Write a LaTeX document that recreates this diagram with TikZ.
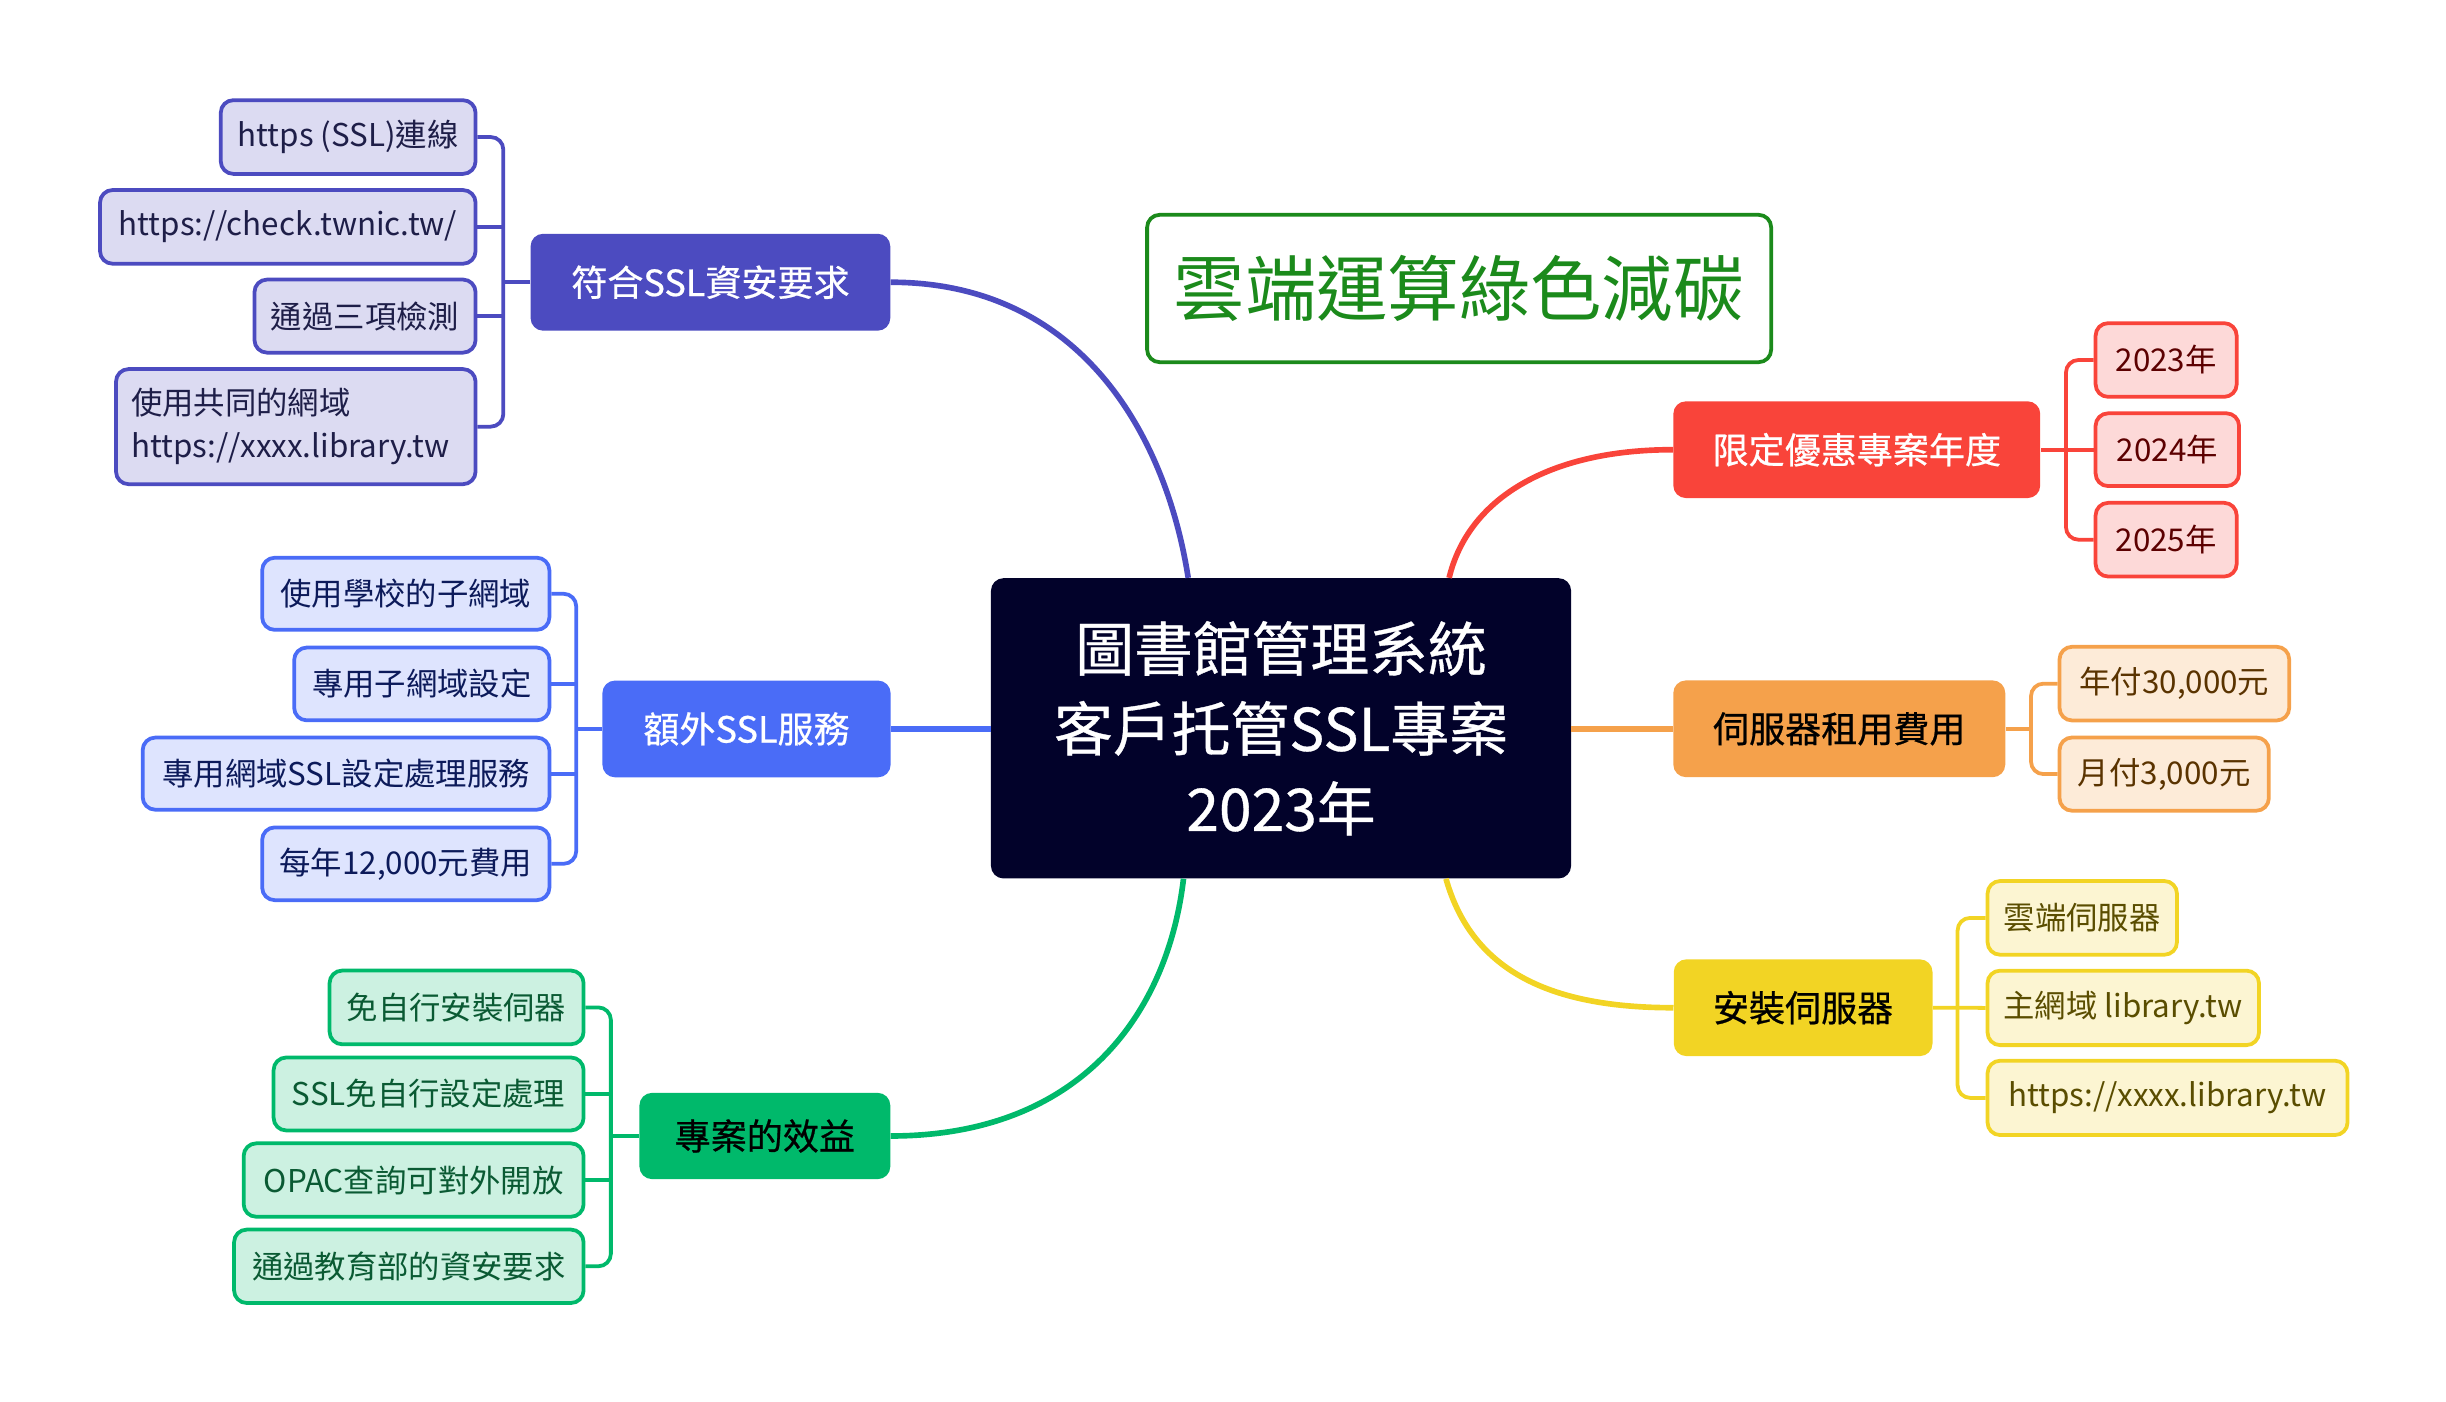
\documentclass[tikz,border=0pt]{standalone}
\usepackage{fontspec}
\setmainfont{Noto Sans CJK TC}
\newfontfamily\cjkmid[FakeBold=0.6]{Noto Sans CJK TC}
\usetikzlibrary{calc}
\definecolor{cnavy}{HTML}{02022A}
\definecolor{ttlgreen}{HTML}{1B8A1B}
\definecolor{purp}{HTML}{4C4BC0}\definecolor{purpL}{HTML}{DCDBF2}\definecolor{purpT}{HTML}{1E1E48}
\definecolor{blu}{HTML}{4A6CF7}\definecolor{bluL}{HTML}{DEE4FE}\definecolor{bluT}{HTML}{0C1A5A}
\definecolor{grn}{HTML}{00B96B}\definecolor{grnL}{HTML}{CCF1E1}\definecolor{grnT}{HTML}{0A5A33}
\definecolor{red1}{HTML}{F9443A}\definecolor{redL}{HTML}{FDD9D8}\definecolor{redT}{HTML}{5C0000}
\definecolor{org}{HTML}{F5A14B}\definecolor{orgL}{HTML}{FDEBD8}\definecolor{orgT}{HTML}{5A3300}
\definecolor{yel}{HTML}{F2D424}\definecolor{yelL}{HTML}{FCF5D2}\definecolor{yelT}{HTML}{5A4D00}
\tikzset{
  childbox/.style={draw, line width=2.4pt, rounded corners=8pt, inner sep=0pt,
    font=\fontsize{20}{27.5}\selectfont, align=center},
  branchbox/.style={rounded corners=8pt, inner sep=0pt, font=\cjkmid\fontsize{23}{28}\selectfont},
  cpur/.style={childbox, draw=purp, fill=purpL, text=purpT},
  cblu/.style={childbox, draw=blu, fill=bluL, text=bluT},
  cgrn/.style={childbox, draw=grn, fill=grnL, text=grnT},
  cred/.style={childbox, draw=red1, fill=redL, text=redT},
  corg/.style={childbox, draw=org, fill=orgL, text=orgT},
  cyel/.style={childbox, draw=yel, fill=yelL, text=yelT},
  mainlink/.style={line width=3.6pt},
  bracketlink/.style={line width=2.4pt, rounded corners=8pt},
}
\begin{document}
\begin{tikzpicture}[x=1pt, y=-1pt]
\useasboundingbox (0,0) rectangle (1560,894);
% central
\node[fill=cnavy, rounded corners=8pt, minimum width=370pt, minimum height=191.5pt, inner sep=0pt,
  text=white, align=center, font=\cjkmid\fontsize{37.5}{51}\selectfont] (C) at (817,464.5)
  {圖書館管理系統\\客戶托管SSL專案\\2023年};
% title
\node[draw=ttlgreen, line width=2.4pt, rounded corners=8pt, fill=white, text=ttlgreen,
  minimum width=398pt, minimum height=94pt, inner sep=0pt, font=\fontsize{45.5}{50}\selectfont] (T) at (930.6,184)
  {雲端運算綠色減碳};
% ---- purple branch
\node[branchbox, fill=purp, text=white, minimum width=229.4pt, minimum height=61.8pt, anchor=east] (P) at (568,180) {符合SSL資安要求};
\node[cpur, minimum width=162.5pt, minimum height=47pt, anchor=east] (p1) at (304.5,87.4) {https (SSL)連線};
\node[cpur, minimum width=239.5pt, minimum height=47pt, anchor=east] (p2) at (304.5,144.7) {https://check.twnic.tw/};
\node[cpur, minimum width=141pt, minimum height=46.6pt, anchor=east] (p3) at (304.5,201.6) {通過三項檢測};
\node[cpur, minimum width=229.3pt, minimum height=73.4pt, anchor=east, align=left, text width=210pt] (p4) at (304.5,272.1) {使用共同的網域\\https://xxxx.library.tw};
\coordinate (pb) at (321,0);
\draw[purp, bracketlink] (p1.east) -- (p1.east -| pb) -- (p4.east -| pb) -- (p4.east);
\draw[purp, line width=2.4pt] (p2.east) -- (p2.east -| pb);
\draw[purp, line width=2.4pt] (p3.east) -- (p3.east -| pb);
\draw[purp, line width=2.4pt] (P.west) -- (P.west -| pb);
\coordinate (cP) at ($(C.north west)+(126,0)$);
\draw[purp, mainlink] (P.east) .. controls ($(P.east)+(122,0)$) and ($(cP)+(-14,-90)$) .. (cP);
% ---- blue branch
\node[branchbox, fill=blu, text=white, minimum width=183.8pt, minimum height=61.7pt, anchor=east] (B) at (568.2,464.9) {額外SSL服務};
\node[cblu, minimum width=183.2pt, minimum height=46pt, anchor=east] (b1) at (351.6,378.7) {使用學校的子網域};
\node[cblu, minimum width=162.8pt, minimum height=46.4pt, anchor=east] (b2) at (351.6,436.2) {專用子網域設定};
\node[cblu, minimum width=259.4pt, minimum height=46pt, anchor=east] (b3) at (351.6,493.4) {專用網域SSL設定處理服務};
\node[cblu, minimum width=183.2pt, minimum height=46.4pt, anchor=east] (b4) at (351.6,550.9) {每年12,000元費用};
\coordinate (bb) at (367.5,0);
\draw[blu, bracketlink] (b1.east) -- (b1.east -| bb) -- (b4.east -| bb) -- (b4.east);
\draw[blu, line width=2.4pt] (b2.east) -- (b2.east -| bb);
\draw[blu, line width=2.4pt] (b3.east) -- (b3.east -| bb);
\draw[blu, line width=2.4pt] (B.west) -- (B.west -| bb);
\draw[blu, mainlink] (B.east) -- (B.east -| C.west);
% ---- green branch
\node[branchbox, fill=grn, text=black, minimum width=160pt, minimum height=55pt, anchor=east] (G) at (568,724.5) {專案的效益};
\node[cgrn, minimum width=162pt, minimum height=47pt, anchor=east] (g1) at (373.4,642.5) {免自行安裝伺器};
\node[cgrn, minimum width=197.7pt, minimum height=46.5pt, anchor=east] (g2) at (373.4,697.7) {SSL免自行設定處理};
\node[cgrn, minimum width=216.8pt, minimum height=46.8pt, anchor=east] (g3) at (373.4,752.6) {OPAC查詢可對外開放};
\node[cgrn, minimum width=222.9pt, minimum height=46.8pt, anchor=east] (g4) at (373.4,807.6) {通過教育部的資安要求};
\coordinate (gb) at (389.6,0);
\draw[grn, bracketlink] (g1.east) -- (g1.east -| gb) -- (g4.east -| gb) -- (g4.east);
\draw[grn, line width=2.4pt] (g2.east) -- (g2.east -| gb);
\draw[grn, line width=2.4pt] (g3.east) -- (g3.east -| gb);
\draw[grn, line width=2.4pt] (G.west) -- (G.west -| gb);
\coordinate (cG) at ($(C.south west)+(123,0)$);
\draw[grn, mainlink] (G.east) .. controls ($(G.east)+(122,0)$) and ($(cG)+(-10,85)$) .. (cG);
% ---- red branch
\node[branchbox, fill=red1, text=white, minimum width=234pt, minimum height=61.7pt, anchor=west] (R) at (1067,286.8) {限定優惠專案年度};
\node[cred, minimum width=90pt, minimum height=47pt, anchor=west] (r1) at (1335.3,229.6) {2023年};
\node[cred, minimum width=91.5pt, minimum height=46.4pt, anchor=west] (r2) at (1335.3,286.8) {2024年};
\node[cred, minimum width=90pt, minimum height=47pt, anchor=west] (r3) at (1335.3,344.2) {2025年};
\coordinate (rb) at (1317.6,0);
\draw[red1, bracketlink] (r1.west) -- (r1.west -| rb) -- (r3.west -| rb) -- (r3.west);
\draw[red1, line width=2.4pt] (r2.west) -- (R.east);
\coordinate (cR) at ($(C.north east)+(-78,0)$);
\draw[red1, mainlink] (cR) .. controls ($(cR)+(12,-50)$) and ($(R.west)+(-80,0)$) .. (R.west);
% ---- orange branch
\node[branchbox, fill=org, text=black, minimum width=211.7pt, minimum height=61.7pt, anchor=west] (O) at (1067,464.8) {伺服器租用費用};
\node[corg, minimum width=146.5pt, minimum height=47pt, anchor=west] (o1) at (1312.3,436) {年付30,000元};
\node[corg, minimum width=133.5pt, minimum height=46.7pt, anchor=west] (o2) at (1312.3,493.7) {月付3,000元};
\coordinate (ob) at (1295.3,0);
\draw[org, bracketlink] (o1.west) -- (o1.west -| ob) -- (o2.west -| ob) -- (o2.west);
\draw[org, line width=2.4pt] (O.east) -- (O.east -| ob);
\draw[org, mainlink] (C.east |- O.west) -- (O.west);
% ---- yellow branch
\node[branchbox, fill=yel, text=black, minimum width=165pt, minimum height=61.7pt, anchor=west] (Y) at (1067.3,642.7) {安裝伺服器};
\node[cyel, minimum width=120.8pt, minimum height=47pt, anchor=west] (y1) at (1266.4,585.4) {雲端伺服器};
\node[cyel, minimum width=173.1pt, minimum height=47.5pt, anchor=west] (y2) at (1266.4,642.8) {主網域 library.tw};
\node[cyel, minimum width=229.6pt, minimum height=47.4pt, anchor=west] (y3) at (1266.4,700.2) {https://xxxx.library.tw};
\coordinate (yb) at (1248.5,0);
\draw[yel, bracketlink] (y1.west) -- (y1.west -| yb) -- (y3.west -| yb) -- (y3.west);
\draw[yel, line width=2.4pt] (y2.west) -- (Y.east);
\coordinate (cY) at ($(C.south east)+(-80,0)$);
\draw[yel, mainlink] (cY) .. controls ($(cY)+(17,60)$) and ($(Y.west)+(-77,0)$) .. (Y.west);
\end{tikzpicture}
\end{document}
